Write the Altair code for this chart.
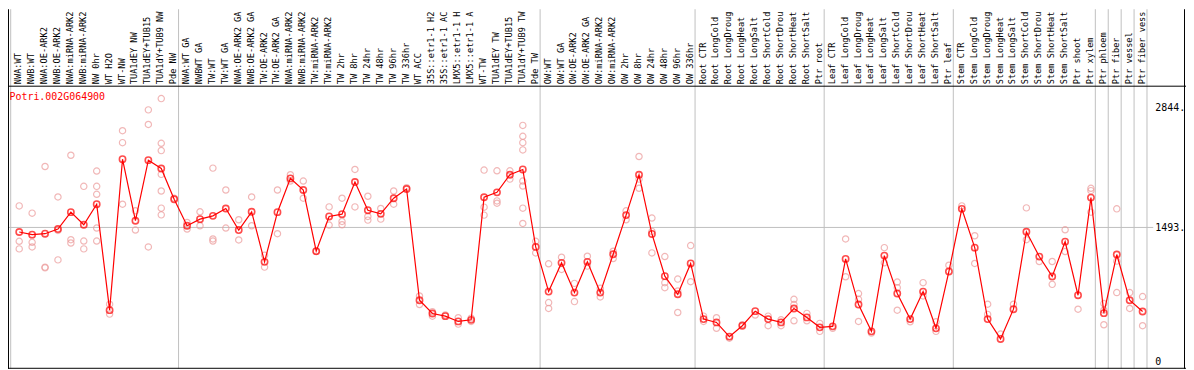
import altair as alt
import pandas as pd

gene = "Potri.002G064900"

labels = [
    "NWA:WT", "NWB:WT", "NWA:OE-ARK2", "NWB:OE-ARK2", "NWA:miRNA-ARK2", "NWB:miRNA-ARK2",
    "NW 0hr", "WT H2O", "WT-NW", "TUA1dEY NW", "TUA1dEY+TUB15", "TUA1dY+TUB9 NW", "Pde NW",
    "NWA:WT GA", "NWBWT GA", "TW:WT", "TW:WT GA", "NWA:OE-ARK2 GA", "NWB:OE-ARK2 GA",
    "TW:OE-ARK2", "TW:OE-ARK2 GA", "NWA:miRNA-ARK2", "NWB:miRNA-ARK2", "TW:miRNA-ARK2",
    "TW:miRNA-ARK2", "TW 2hr", "TW 8hr", "TW 24hr", "TW 48hr", "TW 96hr", "TW 336hr",
    "WT ACC", "35S::etr1-1 H2", "35S::etr1-1 AC", "LMX5::etr1-1 H", "LMX5::etr1-1 A",
    "WT-TW", "TUA1dEY TW", "TUA1dEY+TUB15", "TUA1dY+TUB9 TW", "Pde TW",
    "OW:WT", "OW:WT GA", "OW:OE-ARK2", "OW:OE-ARK2 GA", "OW:miRNA-ARK2", "OW:miRNA-ARK2",
    "OW 2hr", "OW 8hr", "OW 24hr", "OW 48hr", "OW 96hr", "OW 336hr",
    "Root CTR", "Root LongCold", "Root LongDroug", "Root LongHeat", "Root LongSalt",
    "Root ShortCold", "Root ShortDrou", "Root ShortHeat", "Root ShortSalt", "Ptr root",
    "Leaf CTR", "Leaf LongCold", "Leaf LongDroug", "Leaf LongHeat", "Leaf LongSalt",
    "Leaf ShortCold", "Leaf ShortDrou", "Leaf ShortHeat", "Leaf ShortSalt", "Ptr leaf",
    "Stem CTR", "Stem LongCold", "Stem LongDroug", "Stem LongHeat", "Stem LongSalt",
    "Stem ShortCold", "Stem ShortDrou", "Stem ShortHeat", "Stem ShortSalt", "Ptr shoot",
    "Ptr xylem", "Ptr phloem", "Ptr fiber", "Ptr vessel", "Ptr fiber vess",
]

means = [
    1442, 1412, 1423, 1475, 1664, 1523, 1753, 567, 2257, 1568, 2246, 2153, 1808,
    1512, 1586, 1623, 1705, 1464, 1668, 1108, 1664, 2042, 1912, 1227, 1616, 1642, 2001,
    1686, 1645, 1820, 1923, 678, 530, 500, 441, 459, 1831, 1886, 2083, 2142, 1275,
    775, 1097, 764, 1108, 764, 1193, 1631, 2083, 1420, 948, 745, 1090,
    467, 430, 271, 393, 556, 467, 430, 586, 486, 375,
    386, 1141, 630, 330, 1178, 753, 467, 775, 364, 1000,
    1701, 1267, 467, 245, 578, 1445, 1167, 945, 1334, 734, 1827,
    534, 1190, 678, 552,
]

replicates = [
    [1734, 1338, 1253], [1653, 1327, 1275], [2175, 1049, 1041], [1834, 1130, 1460],
    [2301, 1356, 1319], [1953, 1341, 1253], [2124, 1953, 1864, 1486, 1341], [634, 523],
    [2576, 2442, 1753], [1679, 1464], [2809, 2646, 1275],
    [2935, 2435, 2353, 2087, 1901, 1709, 1634], [1820],
    [1549, 1475], [1668, 1512], [2157, 1364, 1341], [1912, 1486], [1579, 1353],
    [1834, 1512], [1182, 1049], [1912, 1423], [2083, 2012], [2012, 1820], [1227],
    [1723, 1520], [1820, 1560, 1523], [2142, 1723], [1842, 1616, 1575], [1705, 1586],
    [1901, 1753], [1938], [726, 630], [550, 500], [513], [483, 411], [441, 478],
    [2135, 1720, 1631], [2127, 1790, 1764], [2127, 2034],
    [2635, 2513, 2442, 2361, 2012, 1957, 1709, 1538], [1338, 1208],
    [1086, 652, 586], [1160, 1023], [867, 663], [1171, 1060], [812, 715], [1227, 1145],
    [1679, 1579], [2287, 2034, 1931], [1598, 1449, 1208], [1167, 875, 819],
    [915, 782, 541], [1290, 886],
    [500, 441], [483, 364], [253], [404], [513], [393, 500], [393, 459], [689, 630, 448],
    [531, 448], [419, 330],
    [364], [1364, 941], [753, 689, 441], [311], [1267, 1097], [882, 819, 567], [437],
    [875, 726], [437, 330], [1070],
    [1734], [1400, 1090], [634, 520], [300], [634], [1712, 1356], [1112], [1112, 856],
    [1467, 1223], [578], [1931, 1905, 1664],
    [641, 567, 404], [1701, 1116, 764], [764, 586], [719, 393],
]

group_bounds = [0, 13, 41, 53, 63, 73, 84, 85, 86, 87, 88]
tick_values = [2844, 1493, 0]
tick_labels = ["2844.", "1493.", "0"]

mean_df = pd.DataFrame({"i": list(range(len(means))), "v": means, "label": labels})
rep_df = pd.DataFrame(
    [{"i": i, "v": v} for i, vals in enumerate(replicates) for v in vals]
)
bound_df = pd.DataFrame({"b": [b - 0.66 for b in group_bounds]})
tick_df = pd.DataFrame({"v": tick_values, "t": tick_labels, "i": [87.98] * 3})
grid_df = pd.DataFrame({"v": [1493]})

X = alt.Scale(domain=[-0.8692, 90.3615], zero=False, nice=False)
Y = alt.Scale(domain=[-88.9, 3935.5], zero=False, nice=False)
FONT = "DejaVu Sans Mono"

vlines = alt.Chart(bound_df).mark_rule(color="#c0c0c0", strokeWidth=1).encode(
    x=alt.X("b:Q", scale=X, axis=None), y=alt.value(0), y2=alt.value(362)
)
hgrid = alt.Chart(grid_df).mark_rule(color="#c0c0c0", strokeWidth=1).encode(
    y=alt.Y("v:Q", scale=Y, axis=None), x=alt.value(0), x2=alt.value(1153)
)
frame_top = alt.Chart(grid_df).mark_rule(color="black", strokeWidth=1).encode(
    y=alt.value(77.5), x=alt.value(0), x2=alt.value(1186)
)
frame_bottom = alt.Chart(grid_df).mark_rule(color="black", strokeWidth=1).encode(
    y=alt.value(361.5), x=alt.value(0), x2=alt.value(1186)
)
frame_left = alt.Chart(grid_df).mark_rule(color="black", strokeWidth=1).encode(
    x=alt.value(0.5), y=alt.value(0), y2=alt.value(362)
)
frame_right = alt.Chart(grid_df).mark_rule(color="black", strokeWidth=1).encode(
    x=alt.value(1184.5), y=alt.value(0), y2=alt.value(362)
)

reps = alt.Chart(rep_df).mark_point(
    shape="circle", filled=False, color="#ec9a9a", size=40, strokeWidth=1.2
).encode(x=alt.X("i:Q", scale=X, axis=None), y=alt.Y("v:Q", scale=Y, axis=None))

line = alt.Chart(mean_df).mark_line(color="#ff0000", strokeWidth=1.2).encode(
    x=alt.X("i:Q", scale=X, axis=None), y=alt.Y("v:Q", scale=Y, axis=None)
)
pts = alt.Chart(mean_df).mark_point(
    shape="circle", filled=False, color="#ff0000", size=40, strokeWidth=1.6
).encode(x=alt.X("i:Q", scale=X, axis=None), y=alt.Y("v:Q", scale=Y, axis=None))

header = alt.Chart(mean_df).mark_text(
    angle=270, align="left", baseline="middle", font=FONT, fontSize=8.7,
    color="black", dy=-1
).encode(x=alt.X("i:Q", scale=X, axis=None), y=alt.value(75.5), text="label:N")

gene_txt = alt.Chart(grid_df).mark_text(
    align="left", baseline="middle", font=FONT, fontSize=10, color="#ff0000"
).encode(x=alt.value(1.5), y=alt.value(88.5), text=alt.value(gene))

ticks = alt.Chart(tick_df).mark_text(
    align="left", baseline="middle", font=FONT, fontSize=10, color="black", dy=1
).encode(x=alt.X("i:Q", scale=X, axis=None), y=alt.Y("v:Q", scale=Y, axis=None), text="t:N")

chart = alt.layer(
    vlines, hgrid, frame_top, frame_bottom, frame_left, frame_right,
    reps, line, pts, header, gene_txt, ticks
).properties(
    width=1186, height=362, autosize="none", padding=0
).configure_view(stroke=None)

chart.save("out.html", embed_options={"renderer": "svg", "actions": False})
